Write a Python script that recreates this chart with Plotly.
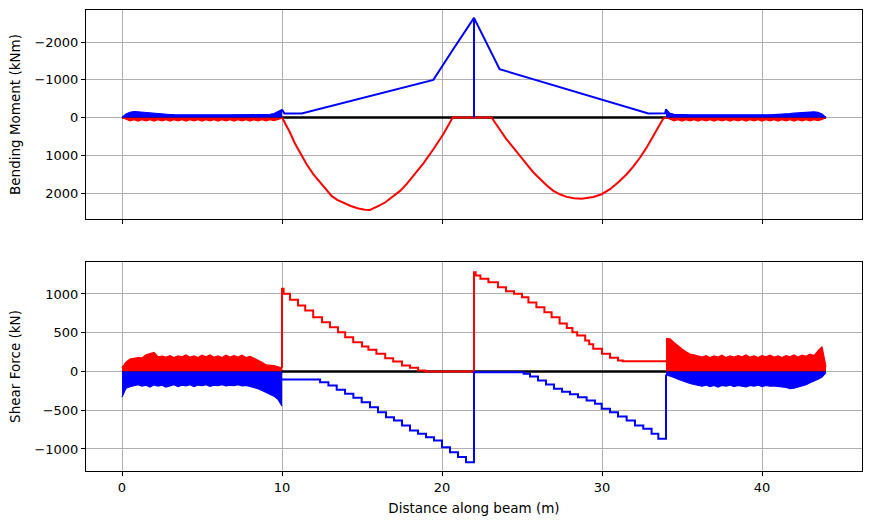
import plotly.graph_objects as go

# ---------------- data ----------------
# sampling positions of the dense (oscillating) zones near the beam ends
X_LEFT = [0, 0.25, 0.5, 0.75, 1, 1.25, 1.5, 1.75, 2, 2.25, 2.5, 2.75, 3, 3.25, 3.5, 3.75,
          4, 4.25, 4.5, 4.75, 5, 5.25, 5.5, 5.75, 6, 6.25, 6.5, 6.75, 7, 7.25, 7.5, 7.75,
          8, 8.25, 8.5, 8.75, 9, 9.25, 9.5, 9.75, 10]
X_RIGHT = [34, 34.25, 34.5, 34.75, 35, 35.25, 35.5, 35.75, 36, 36.25, 36.5, 36.75, 37, 37.25,
           37.5, 37.75, 38, 38.25, 38.5, 38.75, 39, 39.25, 39.5, 39.75, 40, 40.25, 40.5, 40.75,
           41, 41.25, 41.5, 41.75, 42, 42.25, 42.5, 42.75, 43, 43.25, 43.5, 43.75, 44]

# bending moment envelopes in the dense zones (kNm)
MOM_HOG_LEFT = [0, -90, -140, -159, -152, -142, -130, -118, -106, -98, -90, -84, -80, -76, -74, -72,
                -72, -70, -72, -70, -72, -70, -72, -70, -72, -70, -72, -70, -72, -70, -72, -70,
                -72, -72, -74, -76, -78, -86, -106, -150, -210]
MOM_SAG_LEFT = [0, 55, 90, 55, 95, 60, 90, 55, 95, 60, 90, 55, 95, 60, 90, 55,
                95, 60, 90, 55, 95, 60, 90, 55, 95, 60, 90, 55, 95, 60, 90, 55,
                95, 60, 90, 55, 90, 55, 85, 50, 20]
MOM_HOG_RIGHT = [-220, -110, -85, -78, -74, -72, -70, -72, -70, -72, -70, -72, -70, -72,
                 -70, -72, -70, -72, -70, -72, -70, -72, -70, -72, -70, -72, -70, -76,
                 -80, -88, -96, -106, -116, -126, -136, -146, -152, -150, -135, -95, 0]
MOM_SAG_RIGHT = [0, 55, 90, 55, 95, 60, 90, 55, 95, 60, 90, 55, 95, 60,
                 90, 55, 95, 60, 90, 55, 95, 60, 90, 55, 95, 60, 90, 55,
                 95, 60, 90, 55, 95, 60, 90, 55, 90, 55, 85, 50, 0]

# shear force envelopes in the dense zones (kN)
SHR_MAX_LEFT = [50, 120, 160, 170, 180, 175, 215, 230, 245, 190, 200, 185, 205, 180, 200, 190,
                215, 185, 200, 180, 210, 190, 215, 185, 200, 180, 210, 185, 205, 185, 210, 180,
                195, 170, 150, 120, 85, 80, 75, 60, 45]
SHR_MIN_LEFT = [-330, -215, -195, -185, -170, -190, -178, -200, -172, -188, -176, -200, -182, -170,
                -195, -176, -186, -170, -196, -175, -182, -170, -192, -176, -182, -170, -186, -176,
                -182, -170, -186, -180, -192, -205, -222, -245, -270, -292, -318, -360, -445]
SHR_MAX_RIGHT = [425, 420, 375, 330, 290, 255, 225, 215, 200, 185, 205, 180, 200, 185,
                 210, 180, 200, 185, 205, 190, 215, 185, 200, 180, 205, 190, 210, 185,
                 200, 180, 205, 190, 215, 185, 210, 195, 225, 205, 265, 320, 60]
SHR_MIN_RIGHT = [-40, -55, -77, -100, -120, -140, -155, -168, -176, -190, -175, -195, -180, -200,
                 -180, -190, -175, -195, -180, -190, -200, -180, -190, -175, -195, -180, -190, -185,
                 -195, -200, -205, -220, -215, -200, -190, -170, -145, -125, -100, -70, -15]

# bending moment, central spans
MOM_SAG_X = [10.0, 10.5, 10.8, 11.13, 11.54, 11.95, 12.38, 12.75, 13.1, 13.45, 13.83, 14.3, 14.77,
             15.19, 15.5, 15.81, 16.1, 16.44, 16.9, 17.38, 17.8, 18.2, 18.85, 19.46, 20.08, 20.67,
             23.1, 23.6, 24.0, 24.46, 24.9, 25.29, 25.7, 26.13, 26.55, 26.96, 27.4, 27.79, 28.25,
             28.73, 29.1, 29.46, 29.98, 30.5, 31.0, 31.54, 31.95, 32.38, 32.8, 33.2, 33.55, 33.83, 34.0]
MOM_SAG = [0, 397, 680, 927, 1237, 1500, 1722, 1920, 2077, 2180, 2252, 2345, 2410,
           2445, 2450, 2395, 2330, 2252, 2110, 1944, 1760, 1547, 1210, 840, 442, 0,
           0, 310, 560, 795, 1040, 1237, 1450, 1634, 1800, 1943, 2040, 2103, 2140,
           2150, 2135, 2103, 2032, 1899, 1720, 1502, 1300, 1060, 790, 486, 230, 26, 0]
MOM_HOG_X = [10.0, 10.15, 11.23, 19.46, 20.7, 22.0, 22.0, 22.0, 23.6, 32.9, 33.95, 34.0]
MOM_HOG = [-210, -106, -106, -996, -1809, -2640, 0, -2640, -1280, -106, -114, -220]

# shear force, central spans (step values)
SHR_MAX_X = [10.0, 10.0, 10.1, 10.5, 11.0, 11.45, 11.95, 12.5, 13.0, 13.5, 13.95, 14.45, 15.0,
             15.4, 15.9, 16.45, 16.95, 17.5, 18.0, 18.5, 18.95,
             22.0, 22.1, 22.4, 22.9, 23.5, 24.0, 24.5, 25.0, 25.4, 25.9, 26.4, 26.85, 27.35,
             27.8, 28.15, 28.45, 28.95, 29.2, 29.45, 30.0, 30.5, 31.0, 31.3, 34.0]
SHR_MAX = [45, 1066, 1002, 925, 851, 787, 701, 636, 572, 507, 443, 378, 323,
           280, 228, 172, 129, 77, 47, 13, 0,
           1281, 1238, 1195, 1152, 1088, 1036, 1002, 959, 890, 830, 765, 700, 620,
           560, 507, 464, 400, 350, 292, 228, 176, 142, 133, 133]
SHR_MIN_X = [10.0, 12.38, 12.9, 13.42, 13.94, 14.46, 14.98, 15.5, 16.0, 16.5, 17.0, 17.5, 18.0,
             18.5, 19.0, 19.5, 20.0, 20.5, 21.0, 21.5, 22.0,
             25.1, 25.5, 26.0, 26.5, 27.0, 27.5, 28.0, 28.5, 29.04, 29.56, 29.98, 30.5, 31.0,
             31.54, 32.06, 32.58, 33.1, 33.52, 34.0]
SHR_MIN = [-103, -138, -181, -237, -288, -340, -396, -460, -525, -589, -632, -697, -761,
           -804, -847, -890, -976, -1041, -1105, -1170, -9,
           -30, -65, -116, -168, -224, -260, -295, -331, -374, -417, -482, -525, -581,
           -632, -697, -740, -804, -869, -40]

BEAM_X = [0, 44]
BEAM_Y = [0, 0]

X_TICKS = [0, 10, 20, 30, 40]
MOM_TICKS = [-2000, -1000, 0, 1000, 2000]
MOM_TICKTEXT = ["\u22122000", "\u22121000", "0", "1000", "2000"]
SHR_TICKS = [-1000, -500, 0, 500, 1000]
SHR_TICKTEXT = ["\u22121000", "\u2212500", "0", "500", "1000"]

RED = "#ff0000"
BLUE = "#0000ff"

# ---------------- figure ----------------
fig = go.Figure()


def add(x, y, color, xa, ya, width=2.0, fill=None, shape="linear"):
    fig.add_trace(go.Scatter(
        x=x, y=y, mode="lines", xaxis=xa, yaxis=ya, showlegend=False,
        line=dict(color=color, width=width, shape=shape),
        fill=fill, fillcolor=color if fill else None, hoverinfo="skip"))


# top: bending moment
add(BEAM_X, BEAM_Y, "black", "x", "y", width=2.7)
add(X_LEFT, MOM_SAG_LEFT, RED, "x", "y", width=1.2, fill="tozeroy")
add(X_RIGHT, MOM_SAG_RIGHT, RED, "x", "y", width=1.2, fill="tozeroy")
add(MOM_SAG_X, MOM_SAG, RED, "x", "y")
add(X_LEFT, MOM_HOG_LEFT, BLUE, "x", "y", width=1.2, fill="tozeroy")
add(X_RIGHT, MOM_HOG_RIGHT, BLUE, "x", "y", width=1.2, fill="tozeroy")
add(MOM_HOG_X, MOM_HOG, BLUE, "x", "y")

# bottom: shear force
add(BEAM_X, BEAM_Y, "black", "x2", "y2", width=2.7)
add(X_LEFT, SHR_MAX_LEFT, RED, "x2", "y2", width=1.2, fill="tozeroy")
add(X_RIGHT, SHR_MAX_RIGHT, RED, "x2", "y2", width=1.2, fill="tozeroy")
add(SHR_MAX_X, SHR_MAX, RED, "x2", "y2", shape="hv")
add(X_LEFT, SHR_MIN_LEFT, BLUE, "x2", "y2", width=1.2, fill="tozeroy")
add(X_RIGHT, SHR_MIN_RIGHT, BLUE, "x2", "y2", width=1.2, fill="tozeroy")
add(SHR_MIN_X, SHR_MIN, BLUE, "x2", "y2", shape="hv")

TICK_FONT = dict(family="DejaVu Sans", size=13, color="black")
TITLE_FONT = dict(family="DejaVu Sans", size=13.5, color="black")
common_axis = dict(showline=True, linecolor="black", linewidth=1, mirror=True,
                   ticks="outside", ticklen=4, tickcolor="black", tickwidth=1,
                   showgrid=True, gridcolor="#b0b0b0", gridwidth=1, zeroline=False,
                   tickfont=TICK_FONT)

fig.update_layout(
    width=871, height=525,
    margin=dict(l=86, r=9, t=10, b=54, autoexpand=False),
    paper_bgcolor="white", plot_bgcolor="white",
    font=TICK_FONT,
    xaxis=dict(domain=[0, 1], anchor="y", range=[-2.25, 46.25], tickvals=X_TICKS,
               showticklabels=False, **common_axis),
    yaxis=dict(domain=[0.5466, 1], anchor="x", range=[2689, -2848], tickvals=MOM_TICKS,
               ticktext=MOM_TICKTEXT,
               title=dict(text="Bending Moment (kNm)", font=TITLE_FONT, standoff=10), **common_axis),
    xaxis2=dict(domain=[0, 1], anchor="y2", range=[-2.25, 46.25], tickvals=X_TICKS,
                ticktext=[str(v) for v in X_TICKS],
                title=dict(text="Distance along beam (m)", font=TITLE_FONT, standoff=9), **common_axis),
    yaxis2=dict(domain=[0, 0.4534], anchor="x2", range=[-1284, 1413], tickvals=SHR_TICKS,
                ticktext=SHR_TICKTEXT,
                title=dict(text="Shear Force (kN)", font=TITLE_FONT, standoff=10), **common_axis),
)

fig.write_html("out.html", config={"displayModeBar": False})
